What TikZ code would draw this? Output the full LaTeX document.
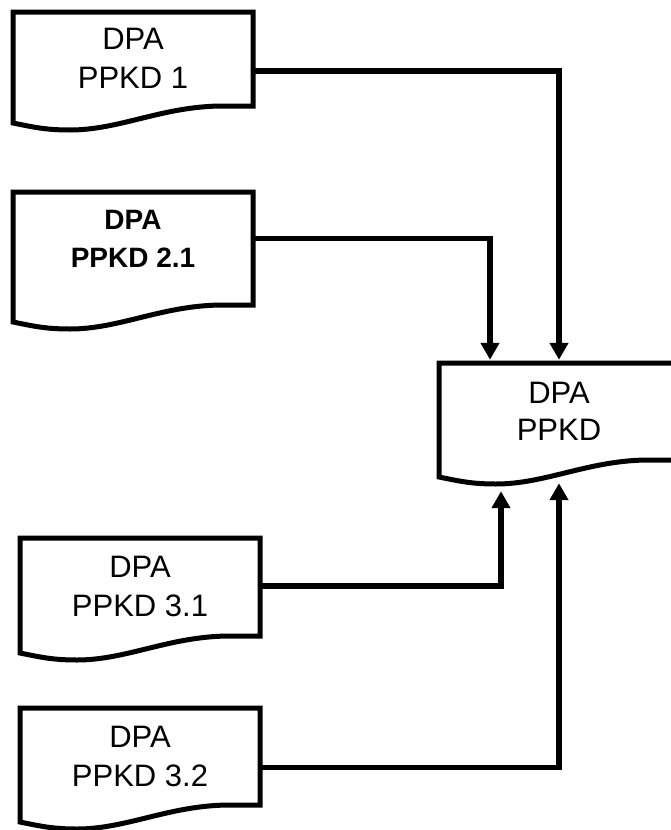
\documentclass[tikz,border=0pt]{standalone}
\usepackage{fontspec}
\setmainfont{Liberation Sans}
\usetikzlibrary{arrows.meta}

% document shape: left x, top y, y of the right bottom corner
\newcommand{\docshape}[3]{%
  \draw[docline] (#1,#2) -- ++(240,0) -- (#1+240,#3) -- ++(-30,0)
    .. controls +(-60,0) and +(50,0) .. ++(-153,24)
    .. controls +(-25,0) and +(20,4) .. ++(-57,-7) -- cycle;}

\tikzset{
  docline/.style={line width=5pt,line join=miter},
  doctext/.style={minimum width=240pt,inner sep=0pt,align=center,font=\fontsize{31}{39}\selectfont},
  arr/.style={line width=5.5pt,line join=miter,shorten >=3pt,-{Triangle[width=18pt,length=17pt]}}
}

\begin{document}
\begin{tikzpicture}[x=1pt,y=-1pt]
			\useasboundingbox (0,0) rectangle (671,830);
			\docshape{13}{12}{106}
			\docshape{13}{192}{305}
			\docshape{20}{538}{636}
			\docshape{20}{708}{805}
			\docshape{439}{363}{460}
			\node[doctext] (d1) at (133,58.5) {DPA\\PPKD 1};
			\node[doctext,font=\fontsize{28}{38}\selectfont\bfseries] (d21) at (133,238.5) {DPA\\PPKD 2.1};
			\node[doctext] (d31) at (140,586) {DPA\\PPKD 3.1};
			\node[doctext] (d32) at (140,756.5) {DPA\\PPKD 3.2};
			\node[doctext,minimum height=97pt,font=\fontsize{31}{37}\selectfont] (dk) at (559,411.5) {DPA\\PPKD};
			\draw[arr] ([yshift=-12.5pt]d1.east) -| (dk.north);
			\draw[arr] (d21.east) -| ([xshift=-69pt]dk.north);
			\draw[arr] (d31.east) -| ([xshift=-58pt,yshift=-28pt]dk.south);
			\draw[arr] ([yshift=-11pt]d32.east) -| ([yshift=-20pt]dk.south);
		\end{tikzpicture}
\end{document}
